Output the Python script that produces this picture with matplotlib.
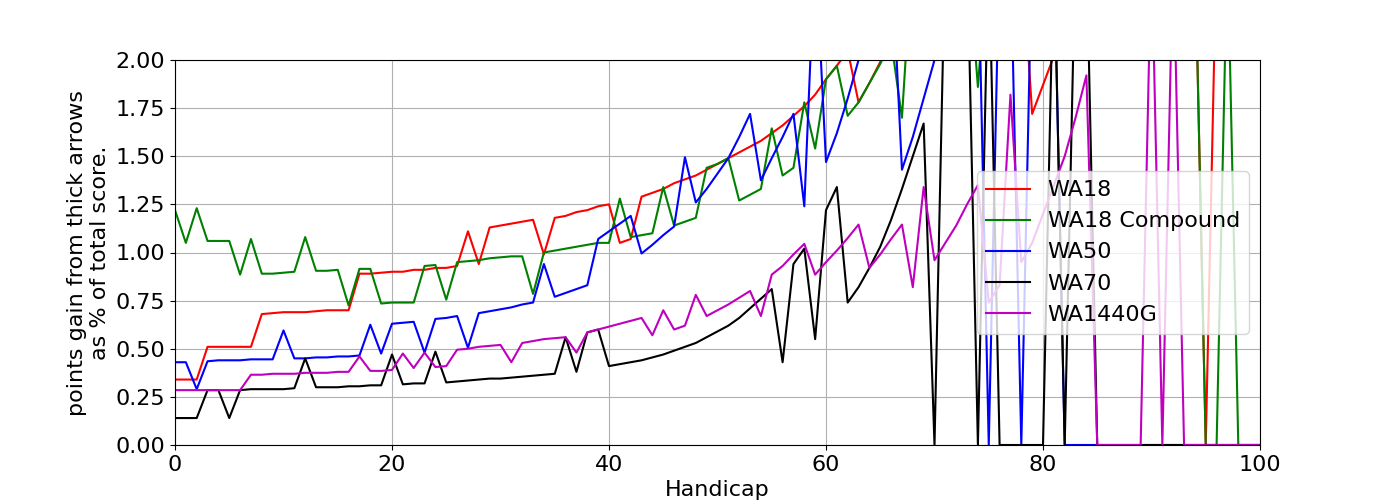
import matplotlib
matplotlib.use("Agg")
import matplotlib.pyplot as plt
import numpy as np

H = 2.6  # values off the top of the chart

handicap = list(range(101))

wa18 = [0.34, 0.34, 0.34, 0.51, 0.51, 0.51, 0.51, 0.51, 0.68, 0.685,
        0.69, 0.69, 0.69, 0.695, 0.70, 0.70, 0.70, 0.89, 0.89, 0.895,
        0.90, 0.90, 0.91, 0.91, 0.92, 0.92, 0.93, 1.11, 0.94, 1.13,
        1.14, 1.15, 1.16, 1.17, 0.99, 1.18, 1.19, 1.21, 1.22, 1.24,
        1.25, 1.05, 1.07, 1.29, 1.31, 1.33, 1.36, 1.38, 1.40, 1.43,
        1.46, 1.49, 1.52, 1.55, 1.58, 1.62, 1.66, 1.71, 1.76, 1.82,
        1.90, 1.97, 2.05, 1.78, 1.88, 1.99, 2.10, H, H, H,
        H, H, H, H, H, H, H, H, H, 1.72,
        1.87, 2.02, H, H, H, H, H, H, H, H,
        H, H, H, H, H, 0.0, H, H, H, H, H]

wa18_compound = [1.22, 1.05, 1.23, 1.06, 1.06, 1.06, 0.885, 1.07, 0.89, 0.89,
                 0.895, 0.90, 1.08, 0.905, 0.905, 0.91, 0.725, 0.915, 0.915, 0.735,
                 0.74, 0.74, 0.74, 0.93, 0.935, 0.755, 0.95, 0.955, 0.96, 0.97,
                 0.975, 0.98, 0.98, 0.785, 1.0, 1.01, 1.02, 1.03, 1.04, 1.05,
                 1.05, 1.28, 1.08, 1.09, 1.10, 1.34, 1.14, 1.16, 1.18, 1.44,
                 1.46, 1.49, 1.27, 1.30, 1.33, 1.645, 1.40, 1.44, 1.78, 1.54,
                 1.90, 1.97, 1.71, 1.78, 1.88, 1.98, 2.10, 1.70, H, H,
                 H, H, H, H, 1.86, H, H, H, H, H,
                 H, H, H, H, H, H, H, H, H, H,
                 H, H, H, H, H, 0.0, 0.0, H, 0.0, 0.0, 0.0]

wa50 = [0.43, 0.43, 0.29, 0.435, 0.44, 0.44, 0.44, 0.445, 0.445, 0.445,
        0.595, 0.45, 0.45, 0.455, 0.455, 0.46, 0.46, 0.465, 0.625, 0.475,
        0.63, 0.635, 0.64, 0.48, 0.655, 0.66, 0.67, 0.505, 0.685, 0.695,
        0.705, 0.715, 0.73, 0.74, 0.94, 0.77, 0.79, 0.81, 0.83, 1.07,
        1.11, 1.15, 1.19, 0.995, 1.04, 1.09, 1.135, 1.495, 1.26, 1.33,
        1.41, 1.49, 1.60, 1.72, 1.375, 1.49, 1.60, 1.72, 1.24, H,
        1.47, 1.62, 1.80, 2.0, H, H, H, 1.43, 1.60, 1.80,
        2.0, H, H, H, H, 0.0, H, H, 0.0, H,
        H, H, 0.0, 0.0, 0.0, 0.0, 0.0, 0.0, 0.0, 0.0,
        0.0, 0.0, 0.0, 0.0, 0.0, 0.0, 0.0, 0.0, 0.0, 0.0, 0.0]

wa70 = [0.14, 0.14, 0.14, 0.285, 0.285, 0.14, 0.285, 0.29, 0.29, 0.29,
        0.29, 0.295, 0.45, 0.30, 0.30, 0.30, 0.305, 0.305, 0.31, 0.31,
        0.47, 0.315, 0.32, 0.32, 0.485, 0.325, 0.33, 0.335, 0.34, 0.345,
        0.345, 0.35, 0.355, 0.36, 0.365, 0.37, 0.56, 0.38, 0.585, 0.60,
        0.41, 0.42, 0.43, 0.44, 0.455, 0.47, 0.49, 0.51, 0.53, 0.56,
        0.59, 0.62, 0.66, 0.71, 0.76, 0.81, 0.43, 0.94, 1.02, 0.55,
        1.22, 1.34, 0.74, 0.82, 0.92, 1.03, 1.17, 1.33, 1.50, 1.67,
        0.0, H, H, H, 0.0, H, 0.0, 0.0, 0.0, 0.0,
        0.0, H, 0.0, H, H, 0.0, 0.0, 0.0, 0.0, 0.0,
        0.0, 0.0, 0.0, 0.0, 0.0, 0.0, 0.0, 0.0, 0.0, 0.0, 0.0]

wa1440g = [0.285, 0.285, 0.285, 0.285, 0.285, 0.285, 0.285, 0.365, 0.365, 0.37,
           0.37, 0.37, 0.375, 0.375, 0.375, 0.38, 0.38, 0.46, 0.385, 0.385,
           0.39, 0.475, 0.40, 0.48, 0.405, 0.41, 0.495, 0.50, 0.51, 0.515,
           0.52, 0.43, 0.53, 0.54, 0.55, 0.555, 0.56, 0.48, 0.585, 0.60,
           0.615, 0.63, 0.645, 0.66, 0.57, 0.70, 0.60, 0.62, 0.78, 0.67,
           0.70, 0.73, 0.765, 0.80, 0.67, 0.885, 0.93, 0.99, 1.045, 0.885,
           0.95, 1.01, 1.075, 1.145, 0.92, 0.99, 1.07, 1.145, 0.82, 1.34,
           0.96, 1.05, 1.14, 1.25, 1.35, 0.74, 0.83, 1.82, 0.95, 1.05,
           1.20, 1.35, 1.50, 1.70, 1.92, 0.0, 0.0, 0.0, 0.0, 0.0,
           H, 0.0, H, 0.0, 0.0, 0.0, 0.0, 0.0, 0.0, 0.0, 0.0]

plt.rcParams['font.size'] = 16
fig, ax = plt.subplots(figsize=(14, 5), dpi=100)

ax.plot(handicap, wa18, color='r', label='WA18')
ax.plot(handicap, wa18_compound, color='g', label='WA18 Compound')
ax.plot(handicap, wa50, color='b', label='WA50')
ax.plot(handicap, wa70, color='k', label='WA70')
ax.plot(handicap, wa1440g, color='m', label='WA1440G')

ax.set_xlim(0, 100)
ax.set_ylim(0, 2)
ax.set_yticks(np.arange(0, 2.01, 0.25))
ax.grid(True)
ax.set_xlabel('Handicap')
ax.set_ylabel('points gain from thick arrows\nas % of total score.')
ax.legend(loc='center right')

fig.savefig('out.png')
